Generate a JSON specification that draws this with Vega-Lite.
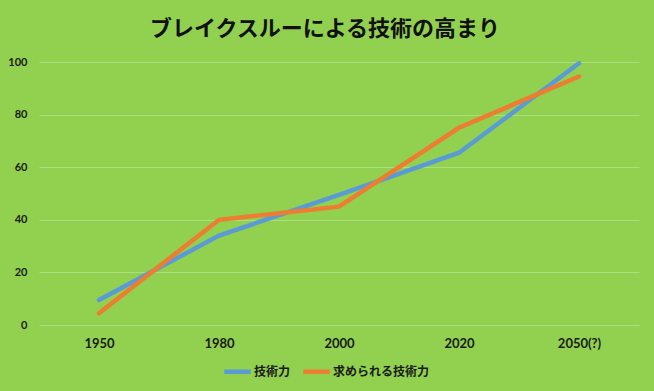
{
  "$schema": "https://vega.github.io/schema/vega-lite/v6.json",
  "width": 600,
  "height": 263,
  "autosize": {"type": "none"},
  "padding": {"left": 39, "top": 62, "right": 15, "bottom": 66},
  "background": "#92D050",
  "config": {
    "view": {"stroke": null},
    "font": "Lato"
  },
  "title": {
    "text": "ブレイクスルーによる技術の高まり",
    "font": "Noto Sans CJK JP",
    "fontSize": 22,
    "fontWeight": "bold",
    "color": "#111111",
    "anchor": "middle",
    "dx": -14,
    "offset": 13
  },
  "data": {
    "values": [
      {"year": "1950", "series": "技術力", "value": 9.5},
      {"year": "1980", "series": "技術力", "value": 34},
      {"year": "2000", "series": "技術力", "value": 49.5},
      {"year": "2020", "series": "技術力", "value": 65.5},
      {"year": "2050(?)", "series": "技術力", "value": 99.5},
      {"year": "1950", "series": "求められる技術力", "value": 4.5},
      {"year": "1980", "series": "求められる技術力", "value": 40},
      {"year": "2000", "series": "求められる技術力", "value": 45},
      {"year": "2020", "series": "求められる技術力", "value": 75},
      {"year": "2050(?)", "series": "求められる技術力", "value": 94.5}
    ]
  },
  "mark": {"type": "line", "strokeWidth": 4.5, "strokeCap": "round", "strokeJoin": "miter"},
  "encoding": {
    "x": {
      "field": "year",
      "type": "ordinal",
      "sort": null,
      "scale": {"type": "point", "padding": 0.5},
      "axis": {
        "title": null,
        "labelAngle": 0,
        "domain": false,
        "ticks": false,
        "grid": false,
        "labelFont": "Lato",
        "labelFontSize": 13,
        "labelFontWeight": "bold",
        "labelColor": "#1a1a1a",
        "labelPadding": 12
      }
    },
    "y": {
      "field": "value",
      "type": "quantitative",
      "scale": {"domain": [0, 100]},
      "axis": {
        "title": null,
        "values": [0, 20, 40, 60, 80, 100],
        "domain": false,
        "ticks": false,
        "gridColor": "#ACDD80",
        "gridWidth": 1,
        "labelFont": "Lato",
        "labelFontSize": 11,
        "labelFontWeight": "bold",
        "labelColor": "#1a1a1a",
        "labelPadding": 12
      }
    },
    "color": {
      "field": "series",
      "type": "nominal",
      "sort": ["技術力", "求められる技術力"],
      "scale": {"domain": ["技術力", "求められる技術力"], "range": ["#5B9BD5", "#ED7D31"]},
      "legend": {
        "title": null,
        "orient": "none",
        "legendX": 183,
        "legendY": 294,
        "direction": "horizontal",
        "symbolType": "stroke",
        "symbolStrokeWidth": 4.5,
        "symbolSize": 700,
        "labelFont": "Noto Sans CJK JP",
        "labelFontSize": 12,
        "labelFontWeight": "bold",
        "labelColor": "#1a1a1a",
        "labelOffset": 1,
        "columnPadding": 3
      }
    }
  }
}
